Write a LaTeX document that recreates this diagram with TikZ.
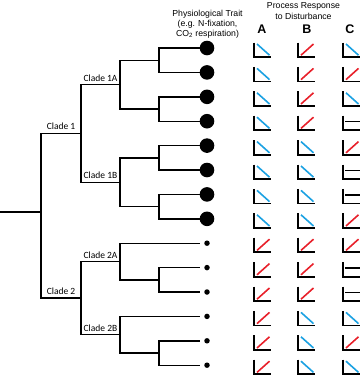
\documentclass[tikz,border=0pt]{standalone}
\usepackage{fontspec}
\setmainfont{Liberation Sans}
\newfontfamily\cladefont{Carlito}
\definecolor{blueline}{RGB}{27,161,226}
\definecolor{redline}{RGB}{232,32,42}
\begin{document}
\begin{tikzpicture}[x=1pt,y=-1pt,
  branch/.style={line width=1.4pt, line join=miter},
  axisline/.style={line width=1.8pt, black, line join=miter},
  bigdot/.style={circle, fill=black, minimum size=14.6pt, inner sep=0pt},
  smalldot/.style={circle, fill=black, minimum size=5.5pt, inner sep=0pt},
  cladelabel/.style={font=\cladefont\fontsize{9.5}{11}\selectfont, anchor=base, inner sep=0pt},
  head/.style={font=\fontsize{8.7}{10.2}\selectfont, align=center, inner sep=0pt},
  colhead/.style={font=\bfseries\fontsize{12.5}{14}\selectfont, inner sep=0pt},
  plotdown/.pic={\draw[axisline] (0,-5.5) -- (0,9) -- (17,9);
                 \draw[blueline, line width=1.6pt] (3,-4) -- (15.5,7.2);},
  plotup/.pic={\draw[axisline] (0,-5.5) -- (0,9) -- (17,9);
               \draw[redline, line width=1.6pt] (3,7.2) -- (15.5,-4);},
  plotflat/.pic={\draw[axisline] (0,-5.5) -- (0,9) -- (17,9);
                 \draw[black, line width=1.5pt] (2,0.5) -- (17,0.5);}
]
\useasboundingbox (0,0) rectangle (361,381);

% headers
\node[head] (trait) at (207.5,24) {Physiological Trait\\(e.g. N-fixation,\\CO\textsubscript{2} respiration)};
\node[head] (proc) at (303.5,11) {Process Response\\to Disturbance};
\node[colhead] (colA) at (262,29) {A};
\node[colhead] (colB) at (307,29) {B};
\node[colhead] (colC) at (350,29) {C};

% tips
\foreach \i in {0,...,7} {
  \node[bigdot] (d\i) at (207,{48+24.4*\i}) {};
}
\foreach \i in {8,...,13} {
  \node[smalldot] (d\i) at (207,{48+24.4*\i}) {};
}
\foreach \i in {0,...,13} {
  \coordinate (e\i) at (200,{48+24.4*\i});
}

% internal nodes
\coordinate (stub) at (0,212);
\coordinate (R) at (41,212);
\coordinate (C1) at (81,133.4);
\coordinate (C2) at (81,298.1);
\coordinate (C1A) at (120,84.7);
\coordinate (C1B) at (120,182.2);
\coordinate (p01) at (159,60.2);
\coordinate (p23) at (159,109);
\coordinate (p45) at (159,157.8);
\coordinate (p67) at (159,206.6);
\coordinate (C2A) at (120,261.5);
\coordinate (p910) at (159,279.8);
\coordinate (C2B) at (120,334.7);
\coordinate (p1213) at (159,353);

% branches
\draw[branch] (stub) -- (R);
\draw[branch] (R) |- (C1);
\draw[branch] (R) |- (C2);
\draw[branch] (C1) |- (C1A);
\draw[branch] (C1) |- (C1B);
\draw[branch] (C1A) |- (p01);
\draw[branch] (C1A) |- (p23);
\draw[branch] (p01) |- (e0);
\draw[branch] (p01) |- (e1);
\draw[branch] (p23) |- (e2);
\draw[branch] (p23) |- (e3);
\draw[branch] (C1B) |- (p45);
\draw[branch] (C1B) |- (p67);
\draw[branch] (p45) |- (e4);
\draw[branch] (p45) |- (e5);
\draw[branch] (p67) |- (e6);
\draw[branch] (p67) |- (e7);
\draw[branch] (C2) |- (C2A);
\draw[branch] (C2) |- (C2B);
\draw[branch] (C2A) |- (e8);
\draw[branch] (C2A) |- (p910);
\draw[branch] (p910) |- (e9);
\draw[branch] (p910) |- (e10);
\draw[branch] (C2B) |- (e11);
\draw[branch] (C2B) |- (p1213);
\draw[branch] (p1213) |- (e12);
\draw[branch] (p1213) |- (e13);

% clade labels
\node[cladelabel] (L1) at (61,129.8) {Clade 1};
\node[cladelabel] (L1A) at (100.5,81.2) {Clade 1A};
\node[cladelabel] (L1B) at (100.5,178.7) {Clade 1B};
\node[cladelabel] (L2) at (61,294.6) {Clade 2};
\node[cladelabel] (L2A) at (100.5,258) {Clade 2A};
\node[cladelabel] (L2B) at (100.5,331.2) {Clade 2B};

% process response mini plots
\foreach \a/\b/\c [count=\i from 0] in {
  down/up/down, down/up/up, down/up/down, down/up/flat,
  down/down/up, down/down/flat, down/down/flat, down/down/up,
  up/up/up, up/up/flat, up/up/flat, up/down/down,
  up/down/up, up/down/down} {
  \pic at (254,{48+24.4*\i}) {plot\a};
  \pic at (298,{48+24.4*\i}) {plot\b};
  \pic at (343,{48+24.4*\i}) {plot\c};
}
\end{tikzpicture}
\end{document}
